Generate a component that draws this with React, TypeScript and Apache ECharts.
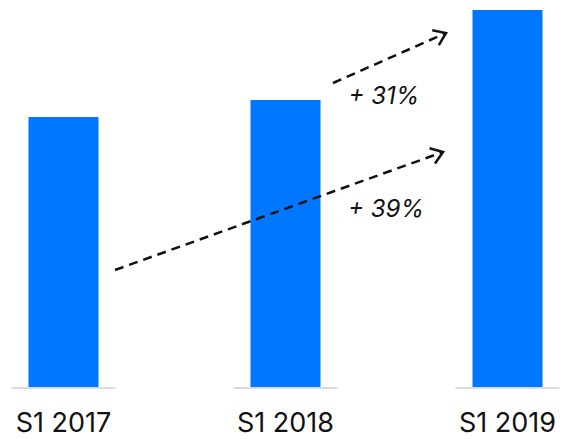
import React, { useEffect, useRef } from "react";
import * as echarts from "echarts";

const categories = ["S1 2017", "S1 2018", "S1 2019"];
const values = [100, 106.3, 139.6];
const growthLabels = ["+ 31%", "+ 39%"];

function arrowElements(x1: number, y1: number, x2: number, y2: number) {
  const ang = Math.atan2(y2 - y1, x2 - x1);
  const len = 14;
  const spread = 0.62;
  const a1 = ang + Math.PI - spread;
  const a2 = ang + Math.PI + spread;
  return [
    {
      type: "line",
      z: 10,
      shape: { x1, y1, x2, y2 },
      style: { stroke: "#111", lineWidth: 2.5, lineDash: [9, 6] },
    },
    {
      type: "polyline",
      z: 10,
      shape: {
        points: [
          [x2 + len * Math.cos(a1), y2 + len * Math.sin(a1)],
          [x2, y2],
          [x2 + len * Math.cos(a2), y2 + len * Math.sin(a2)],
        ],
      },
      style: { stroke: "#111", lineWidth: 2.5, fill: null },
    },
  ];
}

export default function App() {
  const ref = useRef<HTMLDivElement>(null);
  useEffect(() => {
    const chart = echarts.init(ref.current!, undefined, { renderer: "svg" });
    chart.setOption({
      animation: false,
      grid: { left: 0, right: 0, top: 10, bottom: 52, containLabel: false },
      xAxis: {
        type: "value",
        min: -0.286,
        max: 2.2545,
        show: false,
        splitLine: { show: false },
      },
      yAxis: {
        type: "value",
        min: 0,
        max: 139.6,
        show: false,
        splitLine: { show: false },
      },
      series: [
        {
          type: "custom",
          z: 1,
          clip: false,
          data: categories.map((c, i) => [i, 0, c]),
          renderItem: (params: any, api: any) => {
            const i = api.value(0);
            const p = api.coord([i, 0]);
            return {
              type: "group",
              children: [
                {
                  type: "rect",
                  shape: { x: p[0] - 52, y: p[1], width: 104, height: 2 },
                  style: { fill: "#dadbe5" },
                },
                {
                  type: "text",
                  x: p[0],
                  y: p[1] + 35,
                  style: {
                    text: categories[i],
                    fontSize: 27,
                    fontFamily: "Inter",
                    fill: "#111",
                    align: "center",
                    verticalAlign: "middle",
                  },
                },
              ],
            };
          },
        },
        {
          type: "bar",
          z: 2,
          data: values.map((v, i) => [i, v]),
          barWidth: 70,
          itemStyle: { color: "#0077ff" },
        },
      ],
      graphic: [
        ...arrowElements(333, 83, 446, 33),
        ...arrowElements(115, 270, 443, 152),
        {
          type: "text",
          x: 384,
          y: 95,
          style: {
            text: growthLabels[0],
            fontSize: 24,
            fontStyle: "italic",
            fontFamily: "Inter",
            fill: "#111",
            align: "center",
            verticalAlign: "middle",
          },
        },
        {
          type: "text",
          x: 386,
          y: 208,
          style: {
            text: growthLabels[1],
            fontSize: 24,
            fontStyle: "italic",
            fontFamily: "Inter",
            fill: "#111",
            align: "center",
            verticalAlign: "middle",
          },
        },
      ],
    });
    return () => chart.dispose();
  }, []);
  return <div ref={ref} style={{ width: 564, height: 439, position: "absolute", left: 0, top: 0 }} />;
}
